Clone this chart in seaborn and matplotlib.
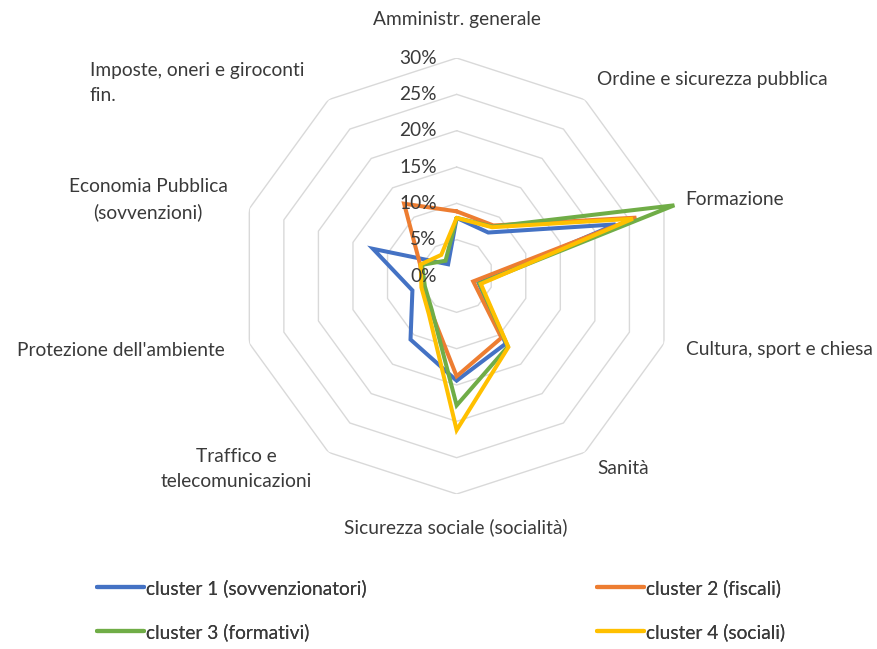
import numpy as np
import pandas as pd
import seaborn as sns
import matplotlib
matplotlib.use("Agg")
from matplotlib import pyplot as plt
from matplotlib.lines import Line2D
from matplotlib.transforms import offset_copy

# Data (share of spending, %)
categories = ["Amministr. generale", "Ordine e sicurezza pubblica", "Formazione",
              "Cultura, sport e chiesa", "Sanità", "Sicurezza sociale (socialità)",
              "Traffico e\ntelecomunicazioni", "Protezione dell'ambiente",
              "Economia Pubblica\n(sovvenzioni)", "Imposte, oneri e giroconti\nfin."]
cluster_names = ["cluster 1 (sovvenzionatori)", "cluster 2 (fiscali)",
                 "cluster 3 (formativi)", "cluster 4 (sociali)"]
cluster1 = [8.0, 7.4, 23.0, 3.2, 11.5, 14.4, 10.8, 6.4, 12.1, 2.0]
cluster2 = [8.9, 8.6, 26.0, 2.4, 10.5, 13.8, 6.0, 4.8, 5.3, 12.3]
cluster3 = [8.0, 8.4, 31.5, 3.3, 12.0, 17.8, 5.8, 4.6, 5.0, 2.6]
cluster4 = [8.0, 8.3, 25.5, 3.5, 12.1, 21.2, 6.5, 5.1, 5.2, 3.6]
tick_levels = [0, 5, 10, 15, 20, 25, 30]
colors = ["#4472C4", "#ED7D31", "#70AD47", "#FFC000"]

sns.set_theme(style="white")
plt.rcParams["font.family"] = ["Lato", "DejaVu Sans"]
text_color = "#3a3a3a"
fs = 13.8

# long table, each polygon closed
n = len(categories)
angles = np.linspace(0, 2 * np.pi, n, endpoint=False)
rows = []
for name, vals in zip(cluster_names, [cluster1, cluster2, cluster3, cluster4]):
    for a, v in zip(list(angles) + [2 * np.pi], vals + vals[:1]):
        rows.append({"theta": a, "value": v / 100, "cluster": name})
df = pd.DataFrame(rows)

fig = plt.figure(figsize=(8.78, 6.49), dpi=100)
ax = fig.add_axes([0.2718, 0.2388, 0.4966, 0.6718], projection="polar")
ax.set_theta_zero_location("N")
ax.set_theta_direction(-1)
ax.set_ylim(0, 0.30)
ax.grid(False)
ax.spines["polar"].set_visible(False)
ax.set_xticks([])
ax.set_yticks([])
ax.patch.set_alpha(0)

# polygonal grid rings
ring_angles = list(angles) + [angles[0]]
for lvl in tick_levels[1:]:
    ax.plot(ring_angles, [lvl / 100] * (n + 1), color="#d9d9d9", lw=1, zorder=1)

sns.lineplot(data=df, x="theta", y="value", hue="cluster", palette=colors,
             sort=False, estimator=None, linewidth=2.9, legend=False, ax=ax, zorder=3)
for line in ax.get_lines()[len(tick_levels) - 1:]:
    line.set_clip_on(False)
    line.set_solid_joinstyle("miter")
ax.set_xlabel("")
ax.set_ylabel("")

# radial tick labels
lab_tr = offset_copy(ax.transData, fig=fig, x=-20, y=0, units="dots")
for lvl in tick_levels:
    ax.text(0, lvl / 100, f"{lvl}%", transform=lab_tr, ha="right", va="center",
            fontsize=fs, color=text_color)

# category labels (pixel positions of centres)
H, W = 649, 878
label_pos = [(457, 20, "center"), (712, 80, "center"), (735, 200, "center"),
             (779, 350, "center"), (623, 468, "center"), (456, 527, "center"),
             (236, 469, "center"), (121, 350, "center"), (148, 200, "center"),
             (90, 83, "left")]
for lab, (px, py, ha) in zip(categories, label_pos):
    fig.text(px / W, 1 - py / H, lab, ha=ha, va="center", fontsize=fs,
             color=text_color, linespacing=1.55, multialignment=ha)

# legend: two columns placed separately
handles = [Line2D([], [], color=c, lw=3.0) for c in colors]
for idx, x0 in [((0, 2), 97), ((1, 3), 597)]:
    leg = fig.legend([handles[i] for i in idx], [cluster_names[i] for i in idx],
                     loc="center left", bbox_to_anchor=(x0 / W, 1 - 610 / H),
                     frameon=False, fontsize=fs, handlelength=2.45,
                     handletextpad=0.1, borderpad=0, borderaxespad=0,
                     labelspacing=1.35, labelcolor=text_color)
    fig.add_artist(leg)

fig.savefig("out.png", dpi=100, facecolor="white")
